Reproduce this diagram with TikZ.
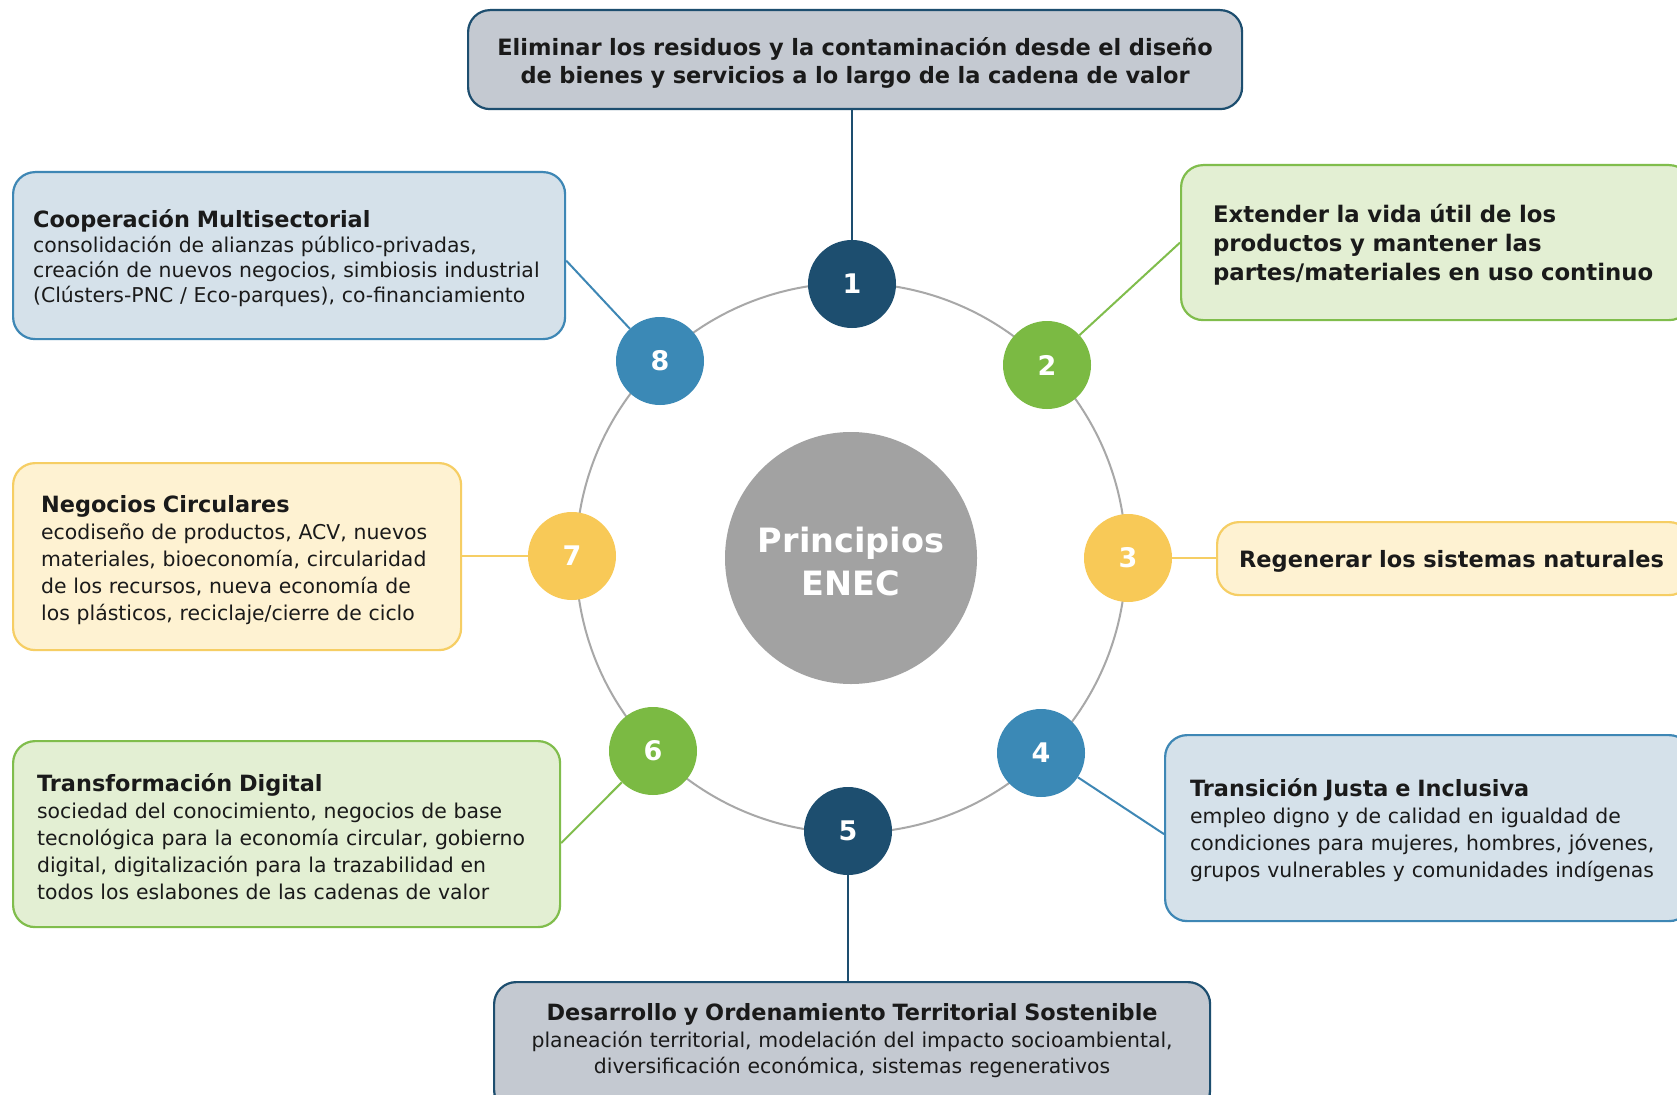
\documentclass[tikz,border=0pt]{standalone}
\usepackage{fontspec}
\setmainfont{DejaVu Sans}
\usetikzlibrary{calc}
\definecolor{navy}{HTML}{1D4E6F}
\definecolor{bluec}{HTML}{3B89B6}
\definecolor{greenc}{HTML}{7BBA43}
\definecolor{yellowc}{HTML}{F8C957}
\definecolor{centerc}{HTML}{A2A2A2}
\definecolor{ringc}{HTML}{A8A8A8}
\definecolor{bluef}{HTML}{D5E1EA}
\definecolor{bluel}{HTML}{3E87B5}
\definecolor{greenf}{HTML}{E3EFD3}
\definecolor{greenl}{HTML}{80BD4C}
\definecolor{yellowf}{HTML}{FEF2D2}
\definecolor{yellowl}{HTML}{F6CE64}
\definecolor{grayf}{HTML}{C4C9D1}
\definecolor{txt}{HTML}{1A1A1A}
\newcommand{\ttl}{\bfseries\fontsize{22.4}{27}\selectfont}
\newcommand{\bdy}{\fontsize{20.4}{27}\selectfont}
\newcommand{\topstrut}{\rule{0pt}{23pt}}
\begin{document}
\begin{tikzpicture}[x=1pt,y=-1pt,
  numc/.style={circle, minimum size=88pt, inner sep=0pt, text=white, font=\bfseries\fontsize{27}{30}\selectfont},
  box/.style={rounded corners=22pt, line width=2.2pt, anchor=north west, align=left, text=txt, inner ysep=0pt},
  ringline/.style={draw=ringc, line width=2pt},
  link/.style={line width=2pt}]
\useasboundingbox (0,0) rectangle (1677,1094);
\clip (0,0) rectangle (1677,1094);
\fill[white] (0,0) rectangle (1677,1094);
\draw[ringline] (851,558) circle [radius=275pt];

% boxes
\node[box, draw=navy, fill=grayf, minimum width=774pt, minimum height=99pt, text width=740pt, align=center, inner xsep=17pt,
  font=\bfseries\fontsize{22.5}{28}\selectfont] (b1) at (467,9)
  {\rule{0pt}{24pt}Eliminar los residuos y la contaminación desde el diseño\\de bienes y servicios a lo largo de la cadena de valor};

\node[box, draw=bluel, fill=bluef, minimum height=167pt, text width=512pt, inner xsep=20pt,
  font=\fontsize{20.4}{25}\selectfont] (b8) at (12,171)
  {{\ttl\topstrut Cooperación Multisectorial}\\consolidación de alianzas público-privadas,\\creación de nuevos negocios, simbiosis industrial\\(Clústers-PNC / Eco-parques), co-financiamiento};

\node[box, draw=greenl, fill=greenf, minimum height=155pt, text width=446pt, inner xsep=32pt,
  font=\bfseries\fontsize{22.8}{29}\selectfont] (b2) at (1180,164)
  {\topstrut Extender la vida útil de los\\productos y mantener las\\partes/materiales en uso continuo};

\node[box, draw=yellowl, fill=yellowf, minimum height=73pt, text width=430pt, inner xsep=22pt,
  font=\bfseries\fontsize{22.5}{29}\selectfont] (b3) at (1216,521)
  {\topstrut Regenerar los sistemas naturales};

\node[box, draw=yellowl, fill=yellowf, minimum height=187pt, text width=392pt, inner xsep=28pt,
  font=\bdy] (b7) at (12,462)
  {{\ttl\rule{0pt}{24pt}Negocios Circulares}\\ecodiseño de productos, ACV, nuevos\\materiales, bioeconomía, circularidad\\de los recursos, nueva economía de\\los plásticos, reciclaje/cierre de ciclo};

\node[box, draw=greenl, fill=greenf, minimum height=186pt, text width=499pt, inner xsep=24pt,
  font=\bdy] (b6) at (12,740)
  {{\ttl\topstrut Transformación Digital}\\sociedad del conocimiento, negocios de base\\tecnológica para la economía circular, gobierno\\digital, digitalización para la trazabilidad en\\todos los eslabones de las cadenas de valor};

\node[box, draw=bluel, fill=bluef, minimum height=186pt, text width=476pt, inner xsep=25pt,
  font=\bdy] (b4) at (1164,734)
  {{\ttl\topstrut Transición Justa e Inclusiva}\\empleo digno y de calidad en igualdad de\\condiciones para mujeres, hombres, jóvenes,\\grupos vulnerables y comunidades indígenas};

\node[box, draw=navy, fill=grayf, minimum height=130pt, text width=680pt, align=center, inner xsep=18pt,
  font=\fontsize{20.4}{26.5}\selectfont] (b5) at (493,981)
  {{\ttl Desarrollo y Ordenamiento Territorial Sostenible}\\planeación territorial, modelación del impacto socioambiental,\\diversificación económica, sistemas regenerativos\rule[-17pt]{0pt}{1pt}};

% center
\node[circle, fill=centerc, minimum size=252pt, inner sep=0pt, text=white, align=center,
  font=\bfseries\fontsize{33.5}{43}\selectfont] (c) at (851,558) {\rule{0pt}{32pt}Principios\\ENEC};

% number circles
\node[numc, fill=navy] (n1) at (852,284) {1};
\node[numc, fill=greenc] (n2) at (1047,365) {2};
\node[numc, fill=yellowc] (n3) at (1128,558) {3};
\node[numc, fill=bluec] (n4) at (1041,753) {4};
\node[numc, fill=navy] (n5) at (848,831) {5};
\node[numc, fill=greenc] (n6) at (653,751) {6};
\node[numc, fill=yellowc] (n7) at (572,556) {7};
\node[numc, fill=bluec] (n8) at (660,361) {8};

% links
\draw[link, navy] (n1) -- (n1 |- b1.south);
\draw[link, greenl] (n2) -- (b2.west);
\draw[link, yellowl] (n3) -- (n3 -| b3.west);
\draw[link, bluel] (n4) -- ($(b4.west)+(0,6)$);
\draw[link, navy] (n5) -- (n5 |- b5.north);
\draw[link, greenl] (n6) -- ($(b6.east)+(0,9)$);
\draw[link, yellowl] (n7) -- (n7 -| b7.east);
\draw[link, bluel] (n8) -- ($(b8.east)+(0,5)$);
\end{tikzpicture}
\end{document}
